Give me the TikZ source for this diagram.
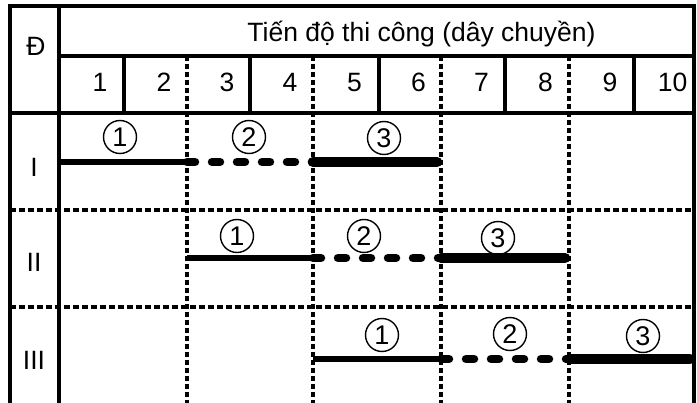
\documentclass[tikz,border=0pt]{standalone}
\usepackage{fontspec}
\setmainfont{Liberation Sans}
\begin{document}
\begin{tikzpicture}[x=1pt,y=-1pt,
  frame/.style={line width=3.2pt},
  gridv/.style={line width=3.2pt, dash pattern=on 5pt off 3pt},
  gridh/.style={line width=3.2pt, dash pattern=on 6pt off 3pt},
  lbl/.style={font=\fontsize{26.5}{30}\selectfont, inner sep=0pt, anchor=base},
  tag/.style={draw, circle, line width=1.4pt, minimum size=33pt, inner sep=0pt,
              font=\fontsize{27}{30}\selectfont},
  barA/.style={line width=5.5pt},
  barB/.style={line width=8.5pt, line cap=round, dash pattern=on 8pt off 17pt},
  barC/.style={line width=10.5pt, line cap=round},
]
\useasboundingbox (0,0) rectangle (697,403);

% outer frame and solid rules
\draw[frame] (10,403) -- (10,6) -- (694,6) -- (694,403);
\draw[frame] (59,6) -- (59,403);
\draw[frame] (59,56) -- (694,56);
\draw[frame] (10,113) -- (694,113);
\foreach \x in {124,250,379,505,634}
  \draw[frame] (\x,56) -- (\x,113);

% dashed separators
\foreach \x in {187,313,441,569}
  \draw[gridv] (\x,56) -- (\x,403);
\draw[gridh] (10,210) -- (694,210);
\draw[gridh] (10,307) -- (694,307);

% headings
\node[lbl] (head) at (421.5,42) {Tiến độ thi công (dây chuyền)};
\node[lbl] (hd) at (36,56) {Đ};
\foreach \i/\c in {1/91.5,2/155.5,3/218.5,4/281.5,5/346,6/410,7/473,8/537,9/601.5,10/664}
  \node[lbl] (n\i) at (\c+8.5,92) {\i};

% row labels
\node[lbl] (rI) at (34,177) {I};
\node[lbl] (rII) at (34,272) {II};
\node[lbl] (rIII) at (34,370) {III};

% bar end points
\coordinate (a0) at (59,162);  \coordinate (a1) at (187,162);
\coordinate (a2) at (313,162); \coordinate (a3) at (437,162);
\coordinate (b0) at (187,258); \coordinate (b1) at (313,258);
\coordinate (b2) at (441,258); \coordinate (b3) at (565,258);
\coordinate (c0) at (313,359); \coordinate (c1) at (441,359);
\coordinate (c2) at (569,359); \coordinate (c3) at (690,359);

% schedule bars
\draw[barA] (a0) -- (a1);
\draw[barB] (a1) -- (a2);
\draw[barC] (a2) -- (a3);
\draw[barA] (b0) -- (b1);
\draw[barB] (b1) -- (b2);
\draw[barC] (b2) -- (b3);
\draw[barA] (c0) -- (c1);
\draw[barB] (c1) -- (c2);
\draw[barC] (c2) -- (c3);

% circled work numbers
\node[tag] (t11) at (120,137) {1};
\node[tag] (t12) at (249,137) {2};
\node[tag] (t13) at (384,138) {3};
\node[tag] (t21) at (237,236) {1};
\node[tag] (t22) at (364,236) {2};
\node[tag] (t23) at (498,238) {3};
\node[tag] (t31) at (382,335) {1};
\node[tag] (t32) at (510,334) {2};
\node[tag] (t33) at (643,336) {3};
\end{tikzpicture}
\end{document}
